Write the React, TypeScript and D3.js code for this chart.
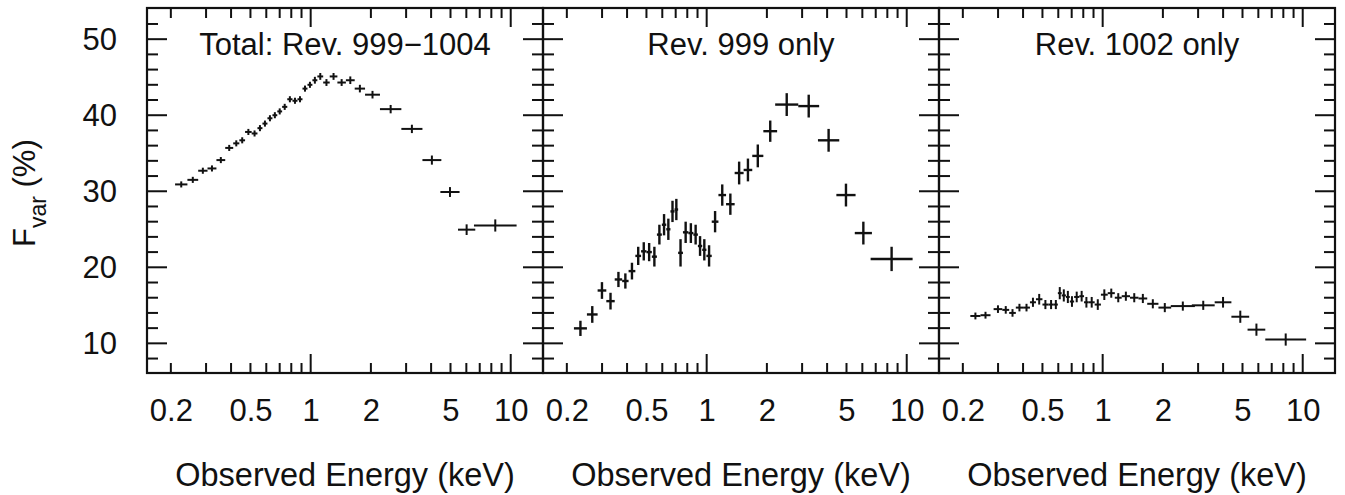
import React, { useEffect, useRef } from 'react';
import * as d3 from 'd3';

const W = 1345;
const H = 495;

const panelTitles = ['Total: Rev. 999\u22121004', 'Rev. 999 only', 'Rev. 1002 only'];
const xTickLabels = [0.2, 0.5, 1, 2, 5, 10];
const xMajorTicks = [1, 10];
const xMinorTicks = [0.2, 0.3, 0.4, 0.5, 0.6, 0.7, 0.8, 0.9, 2, 3, 4, 5, 6, 7, 8, 9];
const yTickLabels = [10, 20, 30, 40, 50];
const yMinorTicks = [8, 12, 14, 16, 18, 22, 24, 26, 28, 32, 34, 36, 38, 42, 44, 46, 48, 52];
const xTitle = 'Observed Energy (keV)';

// Panel 1: Total Rev. 999-1004
const totalLo = [0.21, 0.242, 0.274, 0.305, 0.338, 0.374, 0.41, 0.44, 0.47, 0.507, 0.542, 0.574, 0.608, 0.644, 0.681, 0.72, 0.764, 0.811, 0.859, 0.91, 0.964, 1.02, 1.08, 1.155, 1.245, 1.36, 1.5, 1.66, 1.87, 2.22, 2.84, 3.62, 4.45, 5.45, 6.55];
const totalHi = [0.242, 0.274, 0.305, 0.338, 0.374, 0.41, 0.44, 0.47, 0.507, 0.542, 0.574, 0.608, 0.644, 0.681, 0.72, 0.764, 0.811, 0.859, 0.91, 0.964, 1.02, 1.08, 1.155, 1.245, 1.36, 1.5, 1.66, 1.87, 2.22, 2.84, 3.62, 4.5, 5.55, 6.65, 10.7];
const totalF = [30.9, 31.5, 32.7, 33.0, 34.1, 35.7, 36.3, 36.7, 37.8, 37.6, 38.3, 38.9, 39.6, 40.0, 40.5, 41.1, 42.1, 41.9, 42.1, 43.5, 44.0, 44.6, 45.1, 44.3, 45.1, 44.3, 44.6, 43.5, 42.7, 40.8, 38.2, 34.1, 29.9, 24.95, 25.5];
const totalErr = [0.4, 0.4, 0.4, 0.4, 0.4, 0.4, 0.4, 0.4, 0.4, 0.4, 0.4, 0.4, 0.4, 0.4, 0.4, 0.4, 0.4, 0.4, 0.4, 0.4, 0.4, 0.45, 0.45, 0.45, 0.45, 0.45, 0.5, 0.5, 0.5, 0.55, 0.55, 0.6, 0.65, 0.7, 0.8];

// Panel 2: Rev. 999 only
const rev999Lo = [0.217, 0.252, 0.285, 0.315, 0.347, 0.378, 0.407, 0.44, 0.47, 0.5, 0.532, 0.564, 0.597, 0.628, 0.659, 0.691, 0.72, 0.761, 0.81, 0.858, 0.904, 0.95, 0.997, 1.06, 1.145, 1.25, 1.38, 1.53, 1.69, 1.92, 2.2, 2.87, 3.6, 4.45, 5.5, 6.6];
const rev999Hi = [0.252, 0.285, 0.315, 0.347, 0.378, 0.407, 0.44, 0.47, 0.5, 0.532, 0.564, 0.597, 0.628, 0.659, 0.691, 0.72, 0.761, 0.81, 0.858, 0.904, 0.95, 0.997, 1.06, 1.145, 1.25, 1.38, 1.53, 1.69, 1.92, 2.25, 2.87, 3.65, 4.6, 5.55, 6.7, 10.7];
const rev999F = [11.97, 13.8, 16.95, 15.55, 18.4, 18.2, 19.5, 21.5, 22.1, 22.0, 21.4, 24.3, 25.6, 25.0, 27.35, 27.6, 21.9, 24.6, 24.5, 24.3, 22.8, 22.3, 21.5, 26.0, 29.5, 28.3, 32.4, 32.8, 34.65, 37.9, 41.4, 41.2, 36.7, 29.5, 24.5, 21.1];
const rev999Err = [1.0, 1.1, 1.1, 1.1, 1.0, 1.0, 1.1, 1.2, 1.2, 1.2, 1.3, 1.3, 1.4, 1.4, 1.4, 1.4, 1.8, 1.4, 1.3, 1.3, 1.3, 1.4, 1.4, 1.4, 1.4, 1.4, 1.5, 1.5, 1.5, 1.4, 1.5, 1.5, 1.5, 1.5, 1.5, 1.6];

// Panel 3: Rev. 1002 only
const rev1002Lo = [0.218, 0.245, 0.285, 0.315, 0.341, 0.368, 0.4, 0.433, 0.464, 0.5, 0.535, 0.57, 0.597, 0.624, 0.655, 0.685, 0.72, 0.764, 0.807, 0.852, 0.912, 0.98, 1.06, 1.15, 1.245, 1.37, 1.51, 1.67, 1.9, 2.19, 2.79, 3.63, 4.4, 5.3, 6.5];
const rev1002Hi = [0.245, 0.275, 0.315, 0.341, 0.368, 0.4, 0.433, 0.464, 0.5, 0.535, 0.57, 0.597, 0.624, 0.655, 0.685, 0.72, 0.764, 0.807, 0.852, 0.912, 0.98, 1.06, 1.15, 1.245, 1.37, 1.51, 1.67, 1.9, 2.2, 2.89, 3.63, 4.4, 5.4, 6.5, 10.4];
const rev1002F = [13.6, 13.7, 14.5, 14.4, 14.0, 14.7, 14.7, 15.4, 15.8, 15.1, 15.1, 15.1, 16.6, 16.3, 16.1, 15.5, 16.1, 16.2, 15.4, 15.4, 15.1, 16.4, 16.6, 16.0, 16.2, 16.0, 15.9, 15.2, 14.7, 14.9, 15.0, 15.4, 13.5, 11.8, 10.5];
const rev1002Err = [0.45, 0.45, 0.5, 0.5, 0.5, 0.5, 0.5, 0.6, 0.7, 0.6, 0.6, 0.6, 0.8, 0.8, 0.8, 0.7, 0.7, 0.7, 0.7, 0.7, 0.7, 0.7, 0.6, 0.6, 0.6, 0.6, 0.6, 0.6, 0.6, 0.6, 0.6, 0.7, 0.8, 0.8, 0.8];

const panels = [
  { lo: totalLo, hi: totalHi, f: totalF, err: totalErr },
  { lo: rev999Lo, hi: rev999Hi, f: rev999F, err: rev999Err },
  { lo: rev1002Lo, hi: rev1002Hi, f: rev1002F, err: rev1002Err },
];

const PANEL_LEFT = [147, 543, 939];
const PANEL_W = 396;
const TOP = 8;
const BOTTOM = 373;
const FONT = '"Liberation Sans", Arial, Helvetica, sans-serif';
const INK = '#111';

export default function App() {
  const ref = useRef<SVGSVGElement | null>(null);

  useEffect(() => {
    const svg = d3.select(ref.current);
    svg.selectAll('*').remove();

    const x = d3.scaleLog().domain([0.152, 14.5]).range([0, PANEL_W]);
    const y = d3.scaleLinear().domain([6.1, 54.1]).range([BOTTOM, TOP]);

    panels.forEach((p, i) => {
      const g = svg.append('g').attr('transform', `translate(${PANEL_LEFT[i]},0)`);
      const tg = g.append('g').attr('stroke', INK).attr('stroke-width', 2);

      // x ticks (bottom & top, inward)
      const xTick = (vals: number[], len: number, cls: string) => {
        tg.selectAll(`line.b${cls}`).data(vals).join('line').attr('class', `b${cls}`)
          .attr('x1', (d: number) => x(d)).attr('x2', (d: number) => x(d))
          .attr('y1', BOTTOM).attr('y2', BOTTOM - len);
        tg.selectAll(`line.t${cls}`).data(vals).join('line').attr('class', `t${cls}`)
          .attr('x1', (d: number) => x(d)).attr('x2', (d: number) => x(d))
          .attr('y1', TOP).attr('y2', TOP + len);
      };
      xTick(xMinorTicks, 10, 'xm');
      xTick(xMajorTicks, 19, 'xM');

      // y ticks (left & right, inward)
      const yTick = (vals: number[], len: number, cls: string) => {
        tg.selectAll(`line.l${cls}`).data(vals).join('line').attr('class', `l${cls}`)
          .attr('x1', 0).attr('x2', len)
          .attr('y1', (d: number) => y(d)).attr('y2', (d: number) => y(d));
        tg.selectAll(`line.r${cls}`).data(vals).join('line').attr('class', `r${cls}`)
          .attr('x1', PANEL_W).attr('x2', PANEL_W - len)
          .attr('y1', (d: number) => y(d)).attr('y2', (d: number) => y(d));
      };
      yTick(yMinorTicks, 11, 'ym');
      yTick(yTickLabels, 20, 'yM');

      // frame
      g.append('rect')
        .attr('x', 0).attr('y', TOP).attr('width', PANEL_W).attr('height', BOTTOM - TOP)
        .attr('fill', 'none').attr('stroke', INK).attr('stroke-width', 2.2);

      // x tick labels
      const xl = g.append('g').attr('transform', `translate(0,${BOTTOM})`)
        .call(d3.axisBottom(x).tickValues(xTickLabels).tickSize(0).tickPadding(26).tickFormat((d: any) => String(d)));
      xl.select('.domain').remove();
      xl.attr('font-family', FONT).attr('font-size', 31);
      xl.selectAll('text').attr('fill', INK);

      if (i === 0) {
        const yl = g.append('g')
          .call(d3.axisLeft(y).tickValues(yTickLabels).tickSize(0).tickPadding(30).tickFormat((d: any) => String(d)));
        yl.select('.domain').remove();
        yl.attr('font-family', FONT).attr('font-size', 31);
        yl.selectAll('text').attr('fill', INK);
      }

      // panel title
      g.append('text')
        .attr('x', PANEL_W / 2).attr('y', 55)
        .attr('text-anchor', 'middle')
        .attr('font-family', FONT).attr('font-size', 31).attr('fill', INK)
        .text(panelTitles[i]);

      // x title
      g.append('text')
        .attr('x', PANEL_W / 2).attr('y', 486)
        .attr('text-anchor', 'middle')
        .attr('font-family', FONT).attr('font-size', 32.5).attr('fill', INK)
        .text(xTitle);

      // data crosses
      const idx = d3.range(p.f.length);
      const dg = g.append('g').attr('stroke', INK).attr('stroke-width', i === 1 ? 2.4 : 2);
      dg.selectAll('line.h').data(idx).join('line').attr('class', 'h')
        .attr('x1', (k: number) => x(p.lo[k])).attr('x2', (k: number) => x(p.hi[k]))
        .attr('y1', (k: number) => y(p.f[k])).attr('y2', (k: number) => y(p.f[k]));
      dg.selectAll('line.v').data(idx).join('line').attr('class', 'v')
        .attr('x1', (k: number) => x(Math.sqrt(p.lo[k] * p.hi[k])))
        .attr('x2', (k: number) => x(Math.sqrt(p.lo[k] * p.hi[k])))
        .attr('y1', (k: number) => y(p.f[k] - p.err[k])).attr('y2', (k: number) => y(p.f[k] + p.err[k]));
    });

    // y title
    const yt = svg.append('text')
      .attr('transform', 'translate(35,247) rotate(-90)')
      .attr('font-family', FONT).attr('font-size', 31).attr('fill', INK);
    yt.append('tspan').text('F');
    yt.append('tspan').attr('font-size', 23).attr('dy', 11).text('var');
    yt.append('tspan').attr('dy', -11).text(' (%)');
  }, []);

  return (
    <svg
      ref={ref}
      width={W}
      height={H}
      viewBox={`0 0 ${W} ${H}`}
      style={{ position: 'absolute', left: 0, top: 0, background: '#fff' }}
    />
  );
}
